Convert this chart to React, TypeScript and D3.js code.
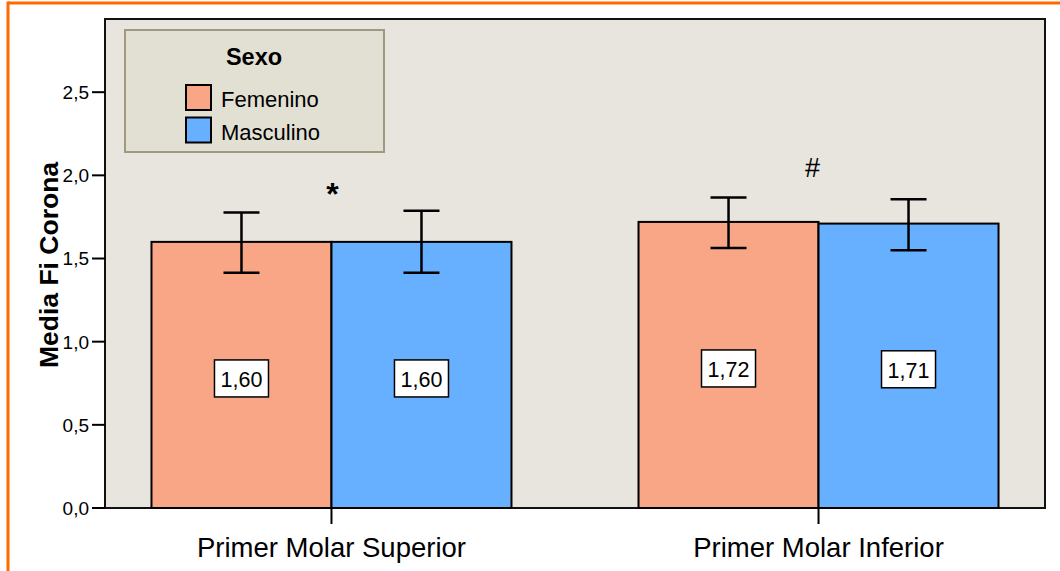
import React from "react";
import * as d3 from "d3";

// Mean "Fi Corona" by tooth and sex, with error bar limits
const categories = ["Primer Molar Superior", "Primer Molar Inferior"];
const groups = ["Femenino", "Masculino"];
const femMeans = [1.6, 1.72];
const mascMeans = [1.6, 1.71];
const femLow = [1.414, 1.5625];
const femHigh = [1.777, 1.867];
const mascLow = [1.414, 1.549];
const mascHigh = [1.787, 1.857];
const annotations = ["*", "#"];
const yTicks = [0, 0.5, 1.0, 1.5, 2.0, 2.5];

const W = 1060;
const H = 571;
const plot = { left: 105, right: 1045, top: 19, bottom: 508 };
const colors = ["#F9A687", "#66B0FF"];

const fmt = (v: number, d: number) => v.toFixed(d).replace(".", ",");

export default function App() {
  const y = d3.scaleLinear().domain([0, 2.94]).range([plot.bottom, plot.top]);
  const x = d3
    .scalePoint<string>()
    .domain(categories)
    .range([plot.left, plot.right])
    .padding(0.465);
  const barW = 180;
  const sub = d3
    .scaleBand<string>()
    .domain(groups)
    .range([-barW, barW])
    .padding(0);

  const series = [
    { name: groups[0], means: femMeans, lo: femLow, hi: femHigh },
    { name: groups[1], means: mascMeans, lo: mascLow, hi: mascHigh },
  ];

  const sans = "'Liberation Sans', Arial, sans-serif";

  return (
    <svg
      width={W}
      height={H}
      style={{ position: "absolute", left: 0, top: 0, background: "#fff" }}
    >
      {/* outer frame */}
      <line x1={8} x2={W} y1={3} y2={3} stroke="#FF6A00" strokeWidth={3} />
      <line x1={8} x2={8} y1={1.5} y2={H} stroke="#FF6A00" strokeWidth={3} />

      {/* plot area */}
      <rect
        x={plot.left}
        y={plot.top}
        width={plot.right - plot.left}
        height={plot.bottom - plot.top}
        fill="#E8E4DE"
        stroke="#111"
        strokeWidth={2}
      />

      {/* y axis */}
      {yTicks.map((t) => (
        <g key={t}>
          <line x1={92} x2={plot.left} y1={y(t)} y2={y(t)} stroke="#000" strokeWidth={2} />
          <text
            x={89}
            y={y(t)}
            dy="0.36em"
            textAnchor="end"
            fontFamily={sans}
            fontSize={19}
            fill="#000"
          >
            {fmt(t, 1)}
          </text>
        </g>
      ))}
      <text
        transform={`translate(58,265) rotate(-90)`}
        textAnchor="middle"
        fontFamily={sans}
        fontWeight="bold"
        fontSize={26.5}
        fill="#000"
      >
        Media Fi Corona
      </text>

      {/* bars */}
      {categories.map((c, ci) => {
        const cx = x(c) as number;
        return (
          <g key={c}>
            {series.map((s, si) => {
              const bx = cx + (sub(s.name) as number);
              const bw = sub.bandwidth();
              return (
                <rect
                  key={s.name}
                  x={bx}
                  y={y(s.means[ci])}
                  width={bw}
                  height={plot.bottom - y(s.means[ci])}
                  fill={colors[si]}
                  stroke="#000"
                  strokeWidth={2}
                />
              );
            })}
          </g>
        );
      })}

      {/* error bars */}
      {categories.map((c, ci) => {
        const cx = x(c) as number;
        return series.map((s) => {
          const ex = cx + (sub(s.name) as number) + sub.bandwidth() / 2;
          const y1 = y(s.hi[ci]);
          const y2 = y(s.lo[ci]);
          return (
            <g key={c + s.name} stroke="#000" strokeWidth={2.5}>
              <line x1={ex} x2={ex} y1={y1} y2={y2} />
              <line x1={ex - 18} x2={ex + 18} y1={y1} y2={y1} />
              <line x1={ex - 18} x2={ex + 18} y1={y2} y2={y2} />
            </g>
          );
        });
      })}

      {/* value labels */}
      {categories.map((c, ci) => {
        const cx = x(c) as number;
        return series.map((s) => {
          const lx = cx + (sub(s.name) as number) + sub.bandwidth() / 2;
          const ly = y(s.means[ci] / 2) + 3.5;
          return (
            <g key={"l" + c + s.name}>
              <rect
                x={lx - 27}
                y={ly - 18.5}
                width={54}
                height={37}
                fill="#fff"
                stroke="#000"
                strokeWidth={1.5}
              />
              <text
                x={lx}
                y={ly + 8.5}
                textAnchor="middle"
                fontFamily={sans}
                fontSize={21.5}
                fill="#000"
              >
                {fmt(s.means[ci], 2)}
              </text>
            </g>
          );
        });
      })}

      {/* significance marks */}
      {categories.map((c, ci) => (
        <text
          key={"a" + c}
          x={(x(c) as number) + (ci === 0 ? 1 : -6)}
          y={ci === 0 ? 205 : 176.5}
          textAnchor="middle"
          fontFamily={sans}
          fontWeight={ci === 0 ? "bold" : "normal"}
          fontSize={ci === 0 ? 32 : 27}
          fill="#000"
        >
          {annotations[ci]}
        </text>
      ))}

      {/* x axis ticks and labels */}
      {categories.map((c) => (
        <g key={"x" + c}>
          <line
            x1={x(c) as number}
            x2={x(c) as number}
            y1={plot.bottom}
            y2={plot.bottom + 16}
            stroke="#000"
            strokeWidth={2}
          />
          <text
            x={x(c) as number}
            y={557}
            textAnchor="middle"
            fontFamily={sans}
            fontSize={27.5}
            fill="#000"
          >
            {c}
          </text>
        </g>
      ))}

      {/* legend */}
      <g>
        <rect x={125} y={30} width={259} height={122} fill="#E2DFD3" stroke="#A09880" strokeWidth={2} />
        <text
          x={254}
          y={65}
          textAnchor="middle"
          fontFamily={sans}
          fontWeight="bold"
          fontSize={23.5}
          fill="#000"
        >
          Sexo
        </text>
        {groups.map((g, i) => (
          <g key={g}>
            <rect
              x={186}
              y={85 + i * 32.5}
              width={25}
              height={25}
              fill={colors[i]}
              stroke="#000"
              strokeWidth={2}
            />
            <text
              x={221}
              y={107.3 + i * 32.7}
              fontFamily={sans}
              fontSize={22}
              fill="#000"
            >
              {g}
            </text>
          </g>
        ))}
      </g>
    </svg>
  );
}
